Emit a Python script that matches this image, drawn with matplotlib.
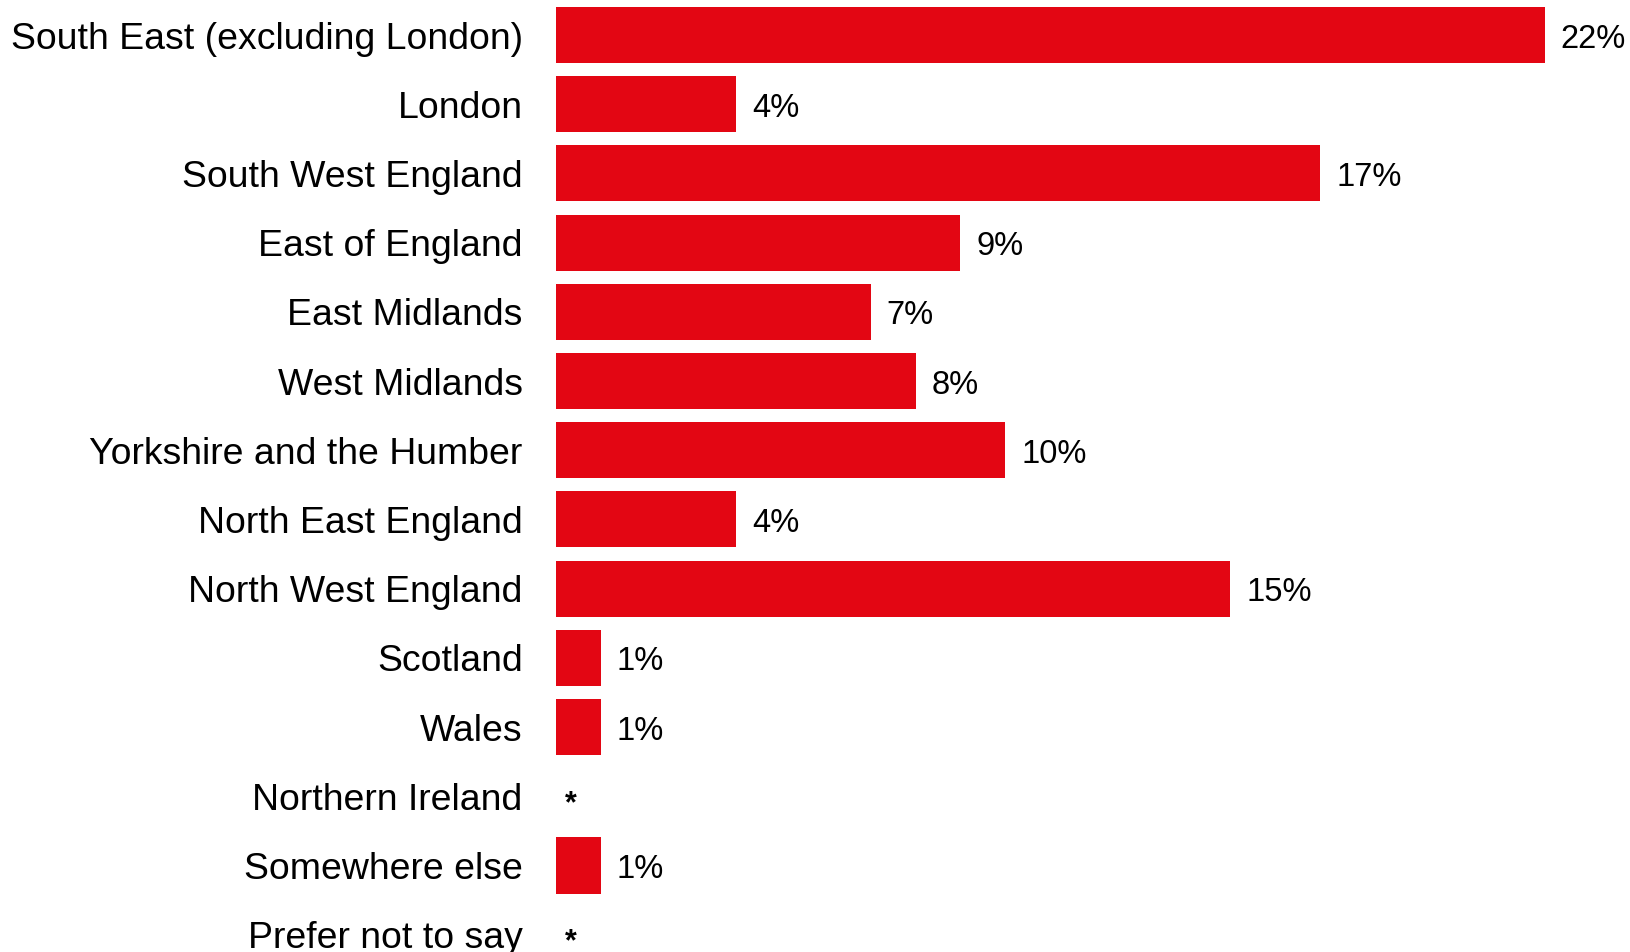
import matplotlib
matplotlib.use("Agg")
import matplotlib.pyplot as plt

plt.rcParams['font.family'] = ['Liberation Sans', 'DejaVu Sans']

# Region of residence, share of respondents (%)
regions = [
    "South East (excluding London)",
    "London",
    "South West England",
    "East of England",
    "East Midlands",
    "West Midlands",
    "Yorkshire and the Humber",
    "North East England",
    "North West England",
    "Scotland",
    "Wales",
    "Northern Ireland",
    "Somewhere else",
    "Prefer not to say",
]
shares = [22, 4, 17, 9, 7, 8, 10, 4, 15, 1, 1, 0, 1, 0]

red = "#E30613"

fig = plt.figure(figsize=(16.31, 9.52), dpi=100)
ax = fig.add_axes([556 / 1631, 0, 1 - 556 / 1631, 1])

pos = list(range(len(regions)))
ax.barh(pos, shares, height=0.81, color=red)

for y, v in zip(pos, shares):
    if v > 0:
        ax.annotate(f"{v}%", (v, y), xytext=(16, -4),
                    textcoords="offset pixels", va="center", ha="left",
                    fontsize=23.5, color="black")
    else:
        ax.annotate("*", (v, y), xytext=(9, -8),
                    textcoords="offset pixels", va="center", ha="left",
                    fontsize=22, fontweight="bold", color="black")

ax.set_xlim(0, 23.92)
ax.set_ylim(13.25, -0.506)
ax.set_yticks(pos)
ax.set_yticklabels(regions, fontsize=26.9)
ax.tick_params(axis="y", length=0, pad=24)
ax.set_xticks([])
for s in ax.spines.values():
    s.set_visible(False)

fig.savefig("out.png", dpi=100)
